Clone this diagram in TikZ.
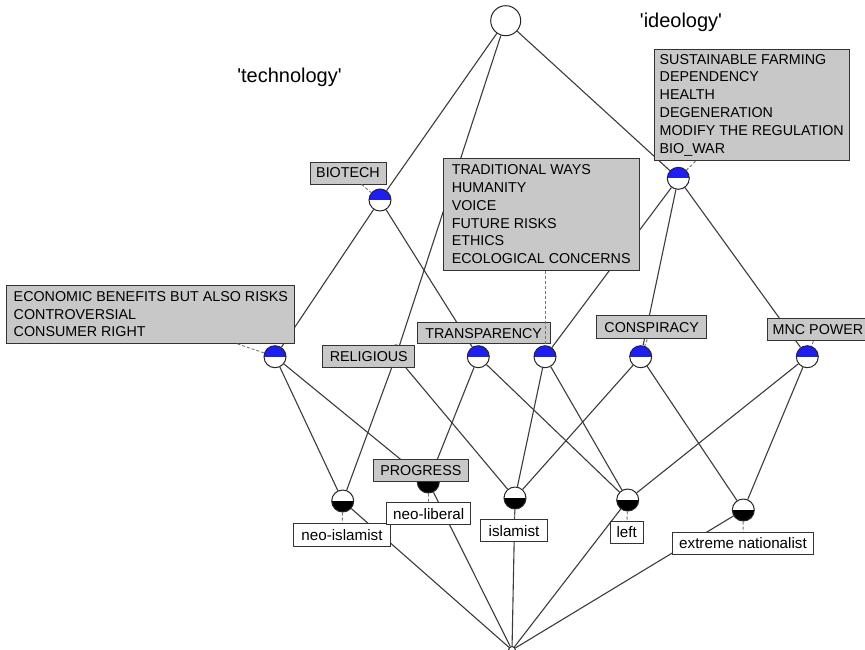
\documentclass[tikz,border=0pt]{standalone}
\usepackage{fontspec}
\setmainfont{Liberation Sans}
\definecolor{nblue}{RGB}{30,30,240}
\definecolor{boxgray}{RGB}{200,200,200}
\definecolor{edgec}{RGB}{60,60,60}
\begin{document}
\begin{tikzpicture}[x=1pt,y=-1pt,
  edge/.style={draw=edgec, line width=1.1pt},
  lbl/.style={draw=edgec!70, dashed, dash pattern=on 3pt off 2pt, line width=0.9pt},
  cnode/.style={circle, draw=black!85, line width=1pt, fill=white, minimum size=22pt, inner sep=0pt},
  attr/.style={cnode, path picture={\fill[nblue] (path picture bounding box.west) rectangle (path picture bounding box.north east);}},
  obj/.style={cnode, path picture={\fill[black] (path picture bounding box.south west) rectangle (path picture bounding box.east);}},
  both/.style={cnode, path picture={\fill[nblue] (path picture bounding box.west) rectangle (path picture bounding box.north east);
     \fill[black] (path picture bounding box.south west) rectangle (path picture bounding box.east);}},
  abox/.style={draw=black!80, fill=boxgray, line width=1pt, inner sep=0pt, align=left,
     font=\fontsize{14.3}{17.8}\selectfont},
  obox/.style={draw=black!80, fill=white, line width=1pt, inner sep=0pt,
     font=\fontsize{15.2}{18}\selectfont},
  title/.style={font=\fontsize{20}{23}\selectfont, inner sep=0pt}
]
\useasboundingbox (0,0) rectangle (865,649);
\clip (0,0) rectangle (865,649);
\fill[white] (0,0) rectangle (865,649);

% concept nodes
\node[cnode, minimum size=30pt] (top) at (505.7,20.7) {};
\node[attr] (biotech) at (380,200) {};
\node[attr] (ideo) at (678.3,178.3) {};
\node[attr] (n1) at (275,356.7) {};
\node[attr] (relig) at (396,356) {};
\node[attr] (n2) at (478.3,356.7) {};
\node[attr] (n3) at (545,356.7) {};
\node[attr] (n4) at (640.7,356.7) {};
\node[attr] (n5) at (807.3,356.7) {};
\node[obj] (neoisl) at (342.7,501) {};
\node[both] (neolib) at (428.3,482) {};
\node[obj] (isl) at (515,498) {};
\node[obj] (left) at (627.7,500) {};
\node[obj] (ext) at (743.3,510) {};
\node[cnode, minimum size=7pt] (bot) at (512,650) {};

% lattice edges
\draw[edge] (top) -- (biotech);
\draw[edge] (top) -- (relig);
\draw[edge] (top) -- (ideo);
\draw[edge] (biotech) -- (n1);
\draw[edge] (biotech) -- (n2);
\draw[edge] (ideo) -- (n3);
\draw[edge] (ideo) -- (n4);
\draw[edge] (ideo) -- (n5);
\draw[edge] (n1) -- (neoisl);
\draw[edge] (n1) -- (neolib);
\draw[edge] (relig) -- (neoisl);
\draw[edge] (relig) -- (isl);
\draw[edge] (n2) -- (neolib);
\draw[edge] (n2) -- (left);
\draw[edge] (n3) -- (isl);
\draw[edge] (n3) -- (left);
\draw[edge] (n4) -- (isl);
\draw[edge] (n4) -- (ext);
\draw[edge] (n5) -- (left);
\draw[edge] (n5) -- (ext);
\draw[edge] (neoisl) -- (bot);
\draw[edge] (neolib) -- (bot);
\draw[edge] (isl) -- (bot);
\draw[edge] (left) -- (bot);
\draw[edge] (ext) -- (bot);

% titles
\node[title] (ttech) at (289.5,77) {\textquotesingle technology\textquotesingle};
\node[title] (tideo) at (681,22) {\textquotesingle ideology\textquotesingle};

% attribute labels
\node[abox, minimum width=76pt, minimum height=22pt] (lbio) at (348,173) {BIOTECH};
\node[abox, minimum width=195.7pt, minimum height=111.7pt] (ltrad) at (541.2,214.2)
  {TRADITIONAL WAYS\\HUMANITY\\VOICE\\FUTURE RISKS\\ETHICS\\ECOLOGICAL CONCERNS};
\node[abox, minimum width=195.3pt, minimum height=111.4pt] (lideo) at (751.7,105)
  {SUSTAINABLE FARMING\\DEPENDENCY\\HEALTH\\DEGENERATION\\MODIFY THE REGULATION\\BIO\_WAR};
\node[abox, minimum width=288.3pt, minimum height=58.3pt] (lecon) at (150.8,314.2)
  {ECONOMIC BENEFITS BUT ALSO RISKS\\CONTROVERSIAL\\CONSUMER RIGHT};
\node[abox, minimum width=92.3pt, minimum height=21.6pt] (lrel) at (368.8,356.5) {RELIGIOUS};
\node[abox, minimum width=132.7pt, minimum height=21.3pt] (ltra) at (483.7,333.3) {TRANSPARENCY};
\node[abox, minimum width=110pt, minimum height=23.3pt] (lcon) at (651.7,327.3) {CONSPIRACY};
\node[abox, minimum width=102pt, minimum height=22.4pt] (lmnc) at (818,329.5) {MNC POWER};
\node[abox, minimum width=95pt, minimum height=22.4pt] (lpro) at (420.8,470.5) {PROGRESS};

% object labels
\node[obox, minimum width=97.4pt, minimum height=22.7pt] (lneoisl) at (342,534.7) {neo-islamist};
\node[obox, minimum width=84pt, minimum height=22.3pt] (lneolib) at (428.7,513.8) {neo-liberal};
\node[obox, minimum width=66.6pt, minimum height=21.7pt] (lisl) at (514,530.8) {islamist};
\node[obox, minimum width=33.3pt, minimum height=22.3pt] (lleft) at (626.7,532.2) {left};
\node[obox, minimum width=140.6pt, minimum height=21.6pt] (lext) at (743,543.5) {extreme nationalist};

% label connectors
\draw[lbl] (lbio) -- (biotech);
\draw[lbl] (lideo) -- (ideo);
\draw[lbl] (lecon) -- (n1);
\draw[lbl] (ltrad.south -| n3) -- (n3);
\draw[lbl] (lcon) -- (n4);
\draw[lbl] (lmnc) -- (n5);
\draw[lbl] (neoisl) -- (lneoisl);
\draw[lbl] (neolib) -- (lneolib);
\draw[lbl] (isl) -- (lisl);
\draw[lbl] (left) -- (lleft);
\draw[lbl] (ext) -- (lext);
\end{tikzpicture}
\end{document}
